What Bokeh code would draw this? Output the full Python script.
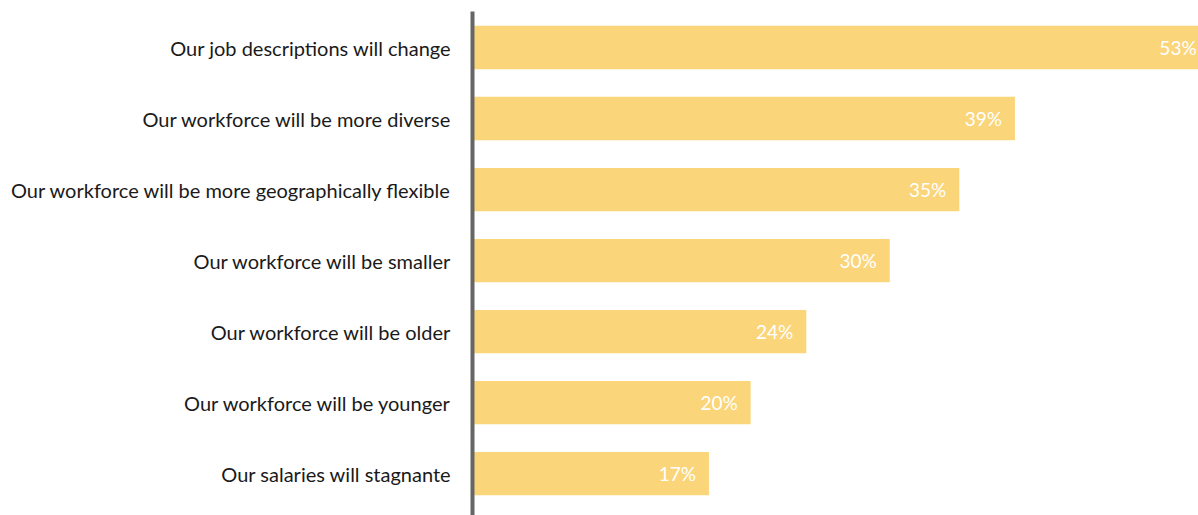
from bokeh.plotting import figure
from bokeh.models import Range1d, FixedTicker, ColumnDataSource
from bokeh.core.properties import value
from bokeh.embed import file_html
from bokeh.resources import INLINE

categories = [
    "Our job descriptions will change",
    "Our workforce will be more diverse",
    "Our workforce will be more geographically flexible",
    "Our workforce will be smaller",
    "Our workforce will be older",
    "Our workforce will be younger",
    "Our salaries will stagnante",
]
values = [53, 39, 35, 30, 24, 20, 17]
labels = [f"{v}%" for v in values]

pos = list(range(len(categories)))
src = ColumnDataSource(dict(y=pos, v=values, lab=labels))

FONT = "Lato"

p = figure(width=1198, height=515, output_backend="svg", toolbar_location=None,
           x_range=Range1d(0, 52.2), y_range=Range1d(6.59, -0.507),
           min_border_left=472, min_border_right=0, min_border_top=11, min_border_bottom=0)
p.hbar(y="y", left=0, right="v", height=0.61, source=src, color="#FBD57A", line_color=None)
p.text(x="v", y="y", text="lab", source=src, x_offset=-13, text_align="right",
       text_baseline="middle", text_color="white", text_font=value(FONT), text_font_size="19px")

p.xaxis.visible = False
p.yaxis.ticker = FixedTicker(ticks=pos)
p.yaxis.major_label_overrides = {i: c for i, c in zip(pos, categories)}
p.yaxis.axis_line_width = 4
p.yaxis.axis_line_color = "#666666"
p.yaxis.major_tick_line_color = None
p.yaxis.minor_tick_line_color = None
p.yaxis.major_label_standoff = 15
p.yaxis.major_label_text_font = FONT
p.yaxis.major_label_text_font_size = "20px"
p.yaxis.major_label_text_color = "#1a1a1a"
p.grid.visible = False
p.outline_line_color = None
p.background_fill_color = "white"

open("out.html", "w").write(file_html(p, INLINE))
